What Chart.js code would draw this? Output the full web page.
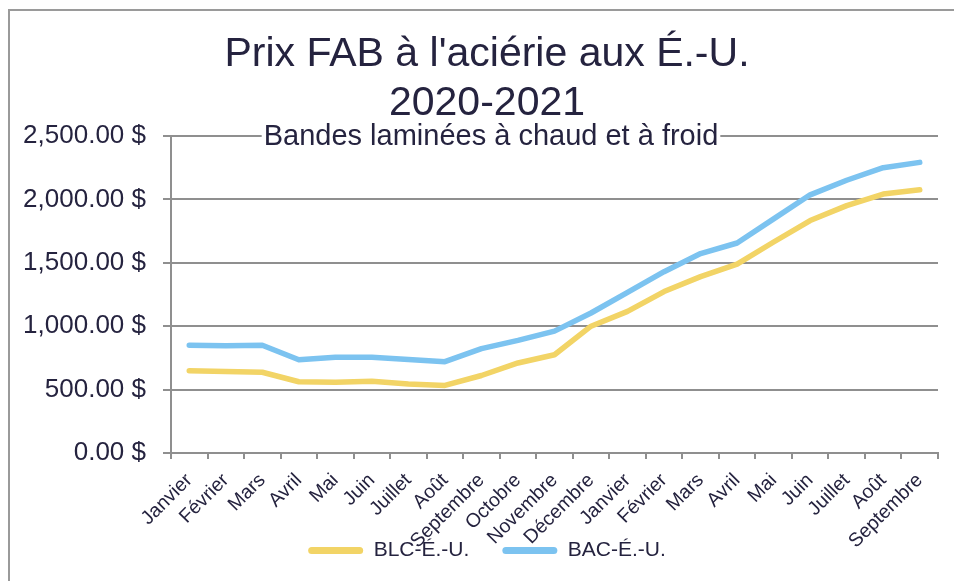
<!DOCTYPE html>
<html>
<head>
<meta charset="utf-8">
<script src="https://cdn.jsdelivr.net/npm/chart.js@4/dist/chart.umd.min.js"></script>
<style>
html,body{margin:0;padding:0;background:#fff;}
#wrap{width:954px;height:581px;position:relative;}
</style>
</head>
<body>
<div id="wrap"><canvas id="c" width="954" height="581"></canvas></div>
<script>
const categories = ["Janvier","Février","Mars","Avril","Mai","Juin","Juillet","Août","Septembre","Octobre","Novembre","Décembre","Janvier","Février","Mars","Avril","Mai","Juin","Juillet","Août","Septembre"];
const blcValues = [648,643,637,562,557,566,545,533,611,710,775,1000,1117,1273,1391,1490,1664,1833,1951,2042,2076];
const bacValues = [849,846,850,735,755,755,737,720,823,888,961,1104,1266,1430,1573,1656,1846,2036,2151,2250,2292];
const yTicks = [0,500,1000,1500,2000,2500];
const titleLines = ["Prix FAB à l'aciérie aux É.-U.","2020-2021"];
const subtitleText = "Bandes laminées à chaud et à froid";
const seriesNames = ["BLC-É.-U.","BAC-É.-U."];

const TEXT = '#25233f';
const GRID = '#8f8f8f';
const YELLOW = '#f2d466';
const BLUE = '#7cc3f0';
const FONT = '"Liberation Sans", Arial, sans-serif';

const framePlugin = {
  id:'frame',
  beforeDraw(chart){
    const ctx = chart.ctx;
    ctx.save();
    ctx.strokeStyle = '#9a9a9a';
    ctx.lineWidth = 2;
    ctx.beginPath();
    ctx.moveTo(9, 600);
    ctx.lineTo(9, 10);
    ctx.lineTo(954, 10);
    ctx.stroke();
    ctx.restore();
  }
};

const subtitlePlugin = {
  id:'subtitleBox',
  afterDatasetsDraw(chart){
    const ctx = chart.ctx;
    ctx.save();
    ctx.font = '29px ' + FONT;
    const w = ctx.measureText(subtitleText).width;
    const cx = 491, cy = 136;
    ctx.fillStyle = '#fff';
    ctx.fillRect(cx - w/2 - 2, cy - 12, w + 4, 24);
    ctx.fillStyle = TEXT;
    ctx.textAlign = 'center';
    ctx.textBaseline = 'middle';
    ctx.fillText(subtitleText, cx, cy + 1);
    ctx.restore();
  }
};

const noClip = scale => { scale._computeLabelArea = () => null; };
const fmt = v => v.toLocaleString('en-US',{minimumFractionDigits:2,maximumFractionDigits:2}) + ' $';

new Chart(document.getElementById('c'), {
  type:'line',
  data:{
    labels: categories,
    datasets:[
      {label:seriesNames[0], data:blcValues, borderColor:YELLOW, backgroundColor:YELLOW, borderWidth:5.5, pointRadius:0, tension:0, borderCapStyle:'round', borderJoinStyle:'round'},
      {label:seriesNames[1], data:bacValues, borderColor:BLUE, backgroundColor:BLUE, borderWidth:5.5, pointRadius:0, tension:0, borderCapStyle:'round', borderJoinStyle:'round'}
    ]
  },
  options:{
    responsive:false,
    animation:false,
    layout:{padding:{left:36, right:16, top:0, bottom:10}},
    plugins:{
      title:{
        display:true,
        text:titleLines,
        color:TEXT,
        font:{family:FONT, size:41, weight:'normal', lineHeight:1.195},
        padding:{top:30, bottom:8}
      },
      legend:{
        position:'bottom',
        labels:{
          color:TEXT,
          font:{family:FONT, size:21},
          boxWidth:55,
          boxHeight:7,
          padding:33,
          useBorderRadius:true,
          borderRadius:3.5,
          generateLabels:(chart)=>Chart.defaults.plugins.legend.labels.generateLabels(chart).map(l=>({...l, lineWidth:0}))
        }
      },
      tooltip:{enabled:false}
    },
    scales:{
      x:{
        offset:true,
        grid:{display:true, offset:true, drawOnChartArea:false, drawTicks:true, tickLength:6, color:GRID, lineWidth:2},
        border:{display:true, color:GRID, width:2},
        ticks:{color:TEXT, font:{family:FONT, size:19.5}, maxRotation:45, minRotation:45, autoSkip:false, padding:10},
        afterFit(scale){ scale.height = 54; },
        afterUpdate: noClip
      },
      y:{
        min:0, max:2500,
        afterBuildTicks(scale){ scale.ticks = yTicks.map(v=>({value:v})); },
        grid:{color:GRID, lineWidth:2, tickLength:8, drawTicks:true},
        border:{display:true, color:GRID, width:2},
        ticks:{color:TEXT, font:{family:FONT, size:26}, padding:17, callback:(v)=>fmt(v)},
        afterFit(scale){ scale.width = 135; },
        afterUpdate: noClip
      }
    }
  },
  plugins:[framePlugin, subtitlePlugin]
});
</script>
</body>
</html>
